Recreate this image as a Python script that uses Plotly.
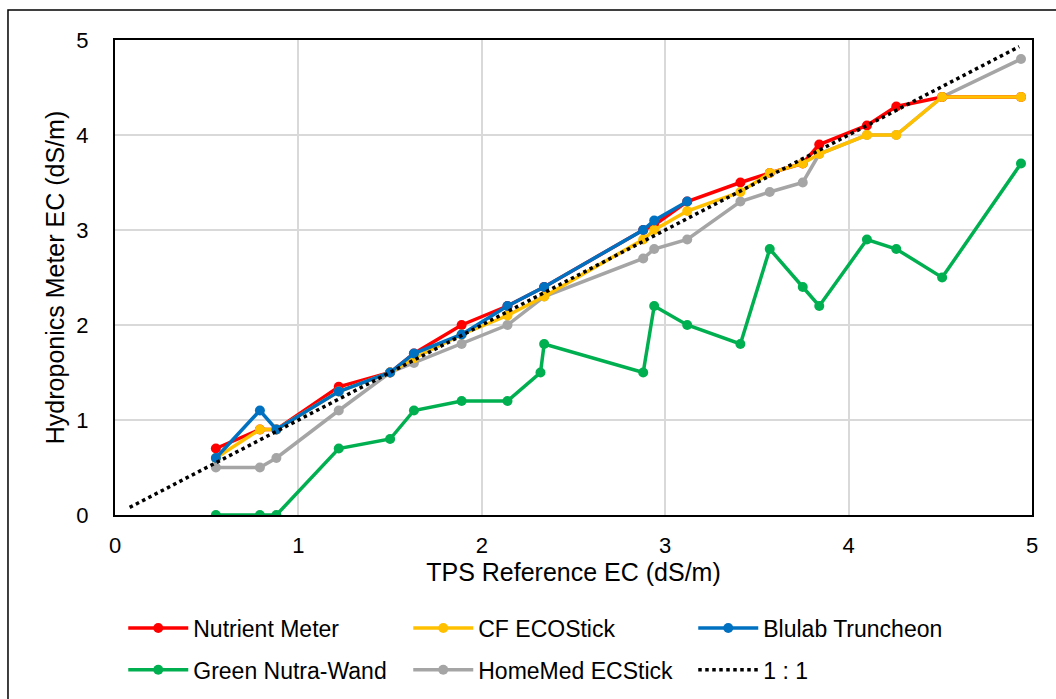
import plotly.graph_objects as go

# TPS reference EC (dS/m), shared x values
x_ref = [0.55, 0.79, 0.88, 1.22, 1.50, 1.63, 1.89, 2.14, 2.34, 2.88, 2.94, 3.12,
         3.41, 3.57, 3.75, 3.84, 4.10, 4.26, 4.51, 4.94]

nutrient_meter = [0.7, 0.9, 0.9, 1.35, 1.5, 1.7, 2.0, 2.2, 2.4, 3.0, 3.05, 3.3,
                  3.5, 3.6, 3.7, 3.9, 4.1, 4.3, 4.4, 4.4]
cf_ecostick = [0.6, 0.9, 0.9, 1.3, 1.5, 1.65, 1.9, 2.1, 2.3, 2.9, 3.0, 3.2,
               3.4, 3.6, 3.7, 3.8, 4.0, 4.0, 4.4, 4.4]
x_blulab = [0.55, 0.79, 0.88, 1.22, 1.50, 1.63, 1.89, 2.14, 2.34, 2.88, 2.94, 3.12]
blulab = [0.6, 1.1, 0.9, 1.3, 1.5, 1.7, 1.9, 2.2, 2.4, 3.0, 3.1, 3.3]
x_green = [0.55, 0.79, 0.88, 1.22, 1.50, 1.63, 1.89, 2.14, 2.32, 2.34, 2.88, 2.94,
           3.12, 3.41, 3.57, 3.75, 3.84, 4.10, 4.26, 4.51, 4.94]
green_nutra = [0.0, 0.0, 0.0, 0.7, 0.8, 1.1, 1.2, 1.2, 1.5, 1.8, 1.5, 2.2,
               2.0, 1.8, 2.8, 2.4, 2.2, 2.9, 2.8, 2.5, 3.7]
homemed = [0.5, 0.5, 0.6, 1.1, 1.5, 1.6, 1.8, 2.0, 2.3, 2.7, 2.8, 2.9,
           3.3, 3.4, 3.5, 3.8, 4.0, 4.0, 4.4, 4.8]
one_to_one = [0.08, 4.93]

x_ticks = [0, 1, 2, 3, 4, 5]
y_ticks = [0, 1, 2, 3, 4, 5]

FONT = "Liberation Sans, Arial, sans-serif"

fig = go.Figure()

def add(name, xs, ys, color, legend):
    fig.add_trace(go.Scatter(
        x=xs, y=ys, name=name, mode="lines+markers",
        line=dict(color=color, width=3.5),
        marker=dict(color=color, size=10),
        legend=legend,
    ))

add("Green Nutra-Wand", x_green, green_nutra, "#00b050", "legend2")
add("HomeMed ECStick", x_ref, homemed, "#a5a5a5", "legend2")
add("Nutrient Meter", x_ref, nutrient_meter, "#ff0000", "legend")
add("CF ECOStick", x_ref, cf_ecostick, "#ffc000", "legend")
add("Blulab Truncheon", x_blulab, blulab, "#0070c0", "legend")
fig.add_trace(go.Scatter(
    x=one_to_one, y=one_to_one, name="1 : 1", mode="lines",
    line=dict(color="black", width=3.5, dash="dot"), legend="legend2",
))

axis_common = dict(
    showgrid=True, gridcolor="#d9d9d9", gridwidth=2,
    showline=True, linecolor="black", linewidth=2, mirror=True,
    zeroline=False, ticks="",
    tickfont=dict(family=FONT, size=22, color="black"),
    title_font=dict(family=FONT, size=25, color="black"),
)

legend_common = dict(orientation="h", x=0.009, xanchor="left", yanchor="middle",
                     entrywidth=210, entrywidthmode="pixels", itemwidth=60,
                     traceorder="normal", font=dict(family=FONT, size=23, color="black"),
                     bgcolor="rgba(0,0,0,0)")

fig.update_layout(
    width=1056, height=699,
    margin=dict(l=115, r=24, t=40, b=184, autoexpand=False),
    paper_bgcolor="white", plot_bgcolor="white",
    font=dict(family=FONT, size=20, color="black"),
    xaxis=dict(range=[0, 5], tickvals=x_ticks, title=dict(text="TPS Reference EC (dS/m)", standoff=6),
               ticklabelstandoff=10, **axis_common),
    yaxis=dict(range=[0, 5], tickvals=y_ticks, title=dict(text="Hydroponics Meter EC (dS/m)", standoff=5),
               ticklabelstandoff=20, **axis_common),
    legend=dict(y=-0.238, **legend_common),
    legend2=dict(y=-0.326, **legend_common),
    showlegend=True,
)

fig.add_shape(type="rect", xref="paper", yref="paper",
              x0=-0.1167, x1=1.2, y0=-0.6, y1=1.063,
              line=dict(color="black", width=1.5), fillcolor="rgba(0,0,0,0)", layer="below")

fig.write_html("out.html")
